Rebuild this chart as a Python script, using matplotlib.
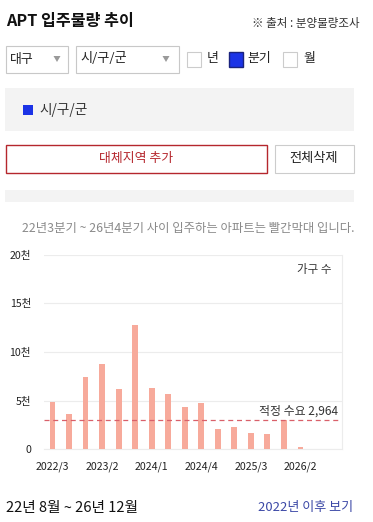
import matplotlib
matplotlib.use("Agg")
import matplotlib.pyplot as plt
from matplotlib.patches import Rectangle, Polygon

plt.rcParams['font.family'] = ['Noto Sans CJK KR', 'DejaVu Sans']

# ---- data ----
quarters = ["2022/3", "2022/4", "2023/1", "2023/2", "2023/3", "2023/4",
            "2024/1", "2024/2", "2024/3", "2024/4", "2025/1", "2025/2",
            "2025/3", "2025/4", "2026/1", "2026/2", "2026/3", "2026/4"]
supply = [4900, 3650, 7380, 8720, 6140, 12760, 6340, 5720, 4380, 4790,
          2100, 2310, 1690, 1590, 3030, 240, 0, 0]
demand = 2964
ytick_vals = [0, 5000, 10000, 15000, 20000]
ytick_labels = ["0", "5천", "10천", "15천", "20천"]
xtick_labels = ["2022/3", "2023/2", "2024/1", "2024/4", "2025/3", "2026/2"]

W, H = 373, 522
fig = plt.figure(figsize=(W / 100, H / 100), dpi=100)

def fx(x):
    return x / W

def fy(y):
    return 1 - y / H

def rect(x0, y0, x1, y1, fc, ec="none", lw=0.8):
    fig.add_artist(Rectangle((fx(x0), fy(y1)), fx(x1) - fx(x0), fy(y0) - fy(y1),
                             transform=fig.transFigure, facecolor=fc,
                             edgecolor=ec, linewidth=lw))

def txt(x, y, s, **kw):
    kw.setdefault("va", "center")
    fig.text(fx(x), fy(y), s, **kw)

def tri(cx, cy, w=7, h=6, c="#9a9a9a"):
    fig.add_artist(Polygon([(fx(cx - w / 2), fy(cy - h / 2)),
                            (fx(cx + w / 2), fy(cy - h / 2)),
                            (fx(cx), fy(cy + h / 2))],
                           closed=True, transform=fig.transFigure,
                           facecolor=c, edgecolor="none"))

# ---- header ----
txt(6, 21, "APT 입주물량 추이", fontsize=11.6, fontweight="bold", color="#111111")
txt(360, 23, "※ 출처 : 분양물량조사", fontsize=8.3, color="#333333", ha="right")

# dropdowns
rect(5.5, 45.5, 67.5, 72.5, "white", "#c8c8c8")
txt(10, 59, "대구", fontsize=9.3, color="#222222")
tri(57, 59)
rect(75.5, 45.5, 178.5, 72.5, "white", "#c8c8c8")
txt(80, 59, "시/구/군", fontsize=9.5, color="#222222")
tri(166, 59)

# checkboxes
rect(186.5, 52, 201, 66.5, "white", "#cccccc")
txt(207, 58.5, "년", fontsize=9.3, color="#222222")
rect(229, 52, 243, 66.5, "#1b33e6", "#1a237e", lw=1.0)
txt(247, 58.5, "분기", fontsize=9.3, color="#222222")
rect(282.5, 52, 297, 66.5, "white", "#cccccc")
txt(303, 58.5, "월", fontsize=9.3, color="#222222")

# gray panel with legend
rect(5, 88, 354, 131, "#f3f3f3")
rect(23, 104.5, 33, 115, "#1b33e6")
txt(39, 110, "시/구/군", fontsize=9.8, color="#333333")

# buttons
rect(5.5, 144.5, 266.5, 173, "white", "#b5272d", lw=1.0)
txt(136, 158.5, "대체지역 추가", fontsize=9.3, color="#b5272d", ha="center")
rect(274.5, 144.5, 353.5, 173, "white", "#cccccc", lw=0.8)
txt(314, 158.5, "전체삭제", fontsize=9.5, color="#222222", ha="center")

# gray strip
rect(5, 190, 354, 202, "#f3f3f3")

# subtitle
txt(188.5, 229, "22년3분기 ~ 26년4분기 사이 입주하는 아파트는 빨간막대 입니다.",
    fontsize=8.9, color="#8a8a8a", ha="center")

# ---- chart ----
ax = fig.add_axes([fx(44.3), fy(449.3), fx(341.7) - fx(44.3), fy(254.5) - fy(449.3)])
x = list(range(len(quarters)))
ax.bar(x, supply, width=0.35, color="#f7aa9b", zorder=3)
ax.axhline(demand, color="#d9606a", linestyle=(0, (4, 3)), linewidth=0.9, zorder=4)
ax.set_xlim(-0.5, len(quarters) - 0.5)
ax.set_ylim(0, 20000)
ax.set_yticks(ytick_vals)
ax.set_yticklabels(ytick_labels)
ax.set_xticks([quarters.index(q) for q in xtick_labels])
ax.set_xticklabels(xtick_labels)
ax.tick_params(axis="both", length=0, labelsize=7.6, colors="#222222")
ax.tick_params(axis="y", pad=9.5)
ax.tick_params(axis="x", pad=9)
ax.grid(axis="y", color="#ececec", linewidth=0.8, zorder=0)
for side in ["left", "top"]:
    ax.spines[side].set_visible(False)
ax.spines["right"].set_color("#ececec")
ax.spines["right"].set_linewidth(0.8)
ax.spines["bottom"].set_color("#ececec")
ax.spines["bottom"].set_linewidth(0.8)
ax.text(0.965, 0.955, "가구 수", transform=ax.transAxes, ha="right", va="top",
        fontsize=8.3, color="#333333")
ax.text(len(quarters) - 0.75, demand + 250, "적정 수요 2,964", ha="right",
        va="bottom", fontsize=8.6, color="#333333", zorder=5)

# ---- footer ----
txt(6, 508, "22년 8월 ~ 26년 12월", fontsize=10.6, color="#111111")
txt(353, 508, "2022년 이후 보기", fontsize=9.4, color="#3b48a6", ha="right")

fig.savefig("out.png", dpi=100)
